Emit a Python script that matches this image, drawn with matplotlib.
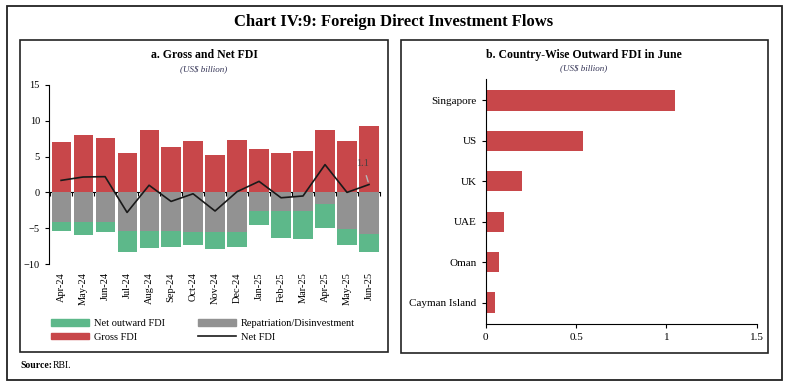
import numpy as np
import matplotlib.pyplot as plt
from matplotlib.patches import Rectangle, Patch
from matplotlib.lines import Line2D

plt.rcParams['font.family'] = ['Liberation Serif', 'DejaVu Serif']

# dados - painel a
meses = ['Apr-24', 'May-24', 'Jun-24', 'Jul-24', 'Aug-24', 'Sep-24', 'Oct-24', 'Nov-24',
         'Dec-24', 'Jan-25', 'Feb-25', 'Mar-25', 'Apr-25', 'May-25', 'Jun-25']
gross_fdi = [7.05, 8.04, 7.62, 5.5, 8.7, 6.3, 7.15, 5.2, 7.3, 6.07, 5.5, 5.8, 8.74, 7.15, 9.26]
repatriacao = [-4.16, -4.16, -4.16, -5.33, -5.33, -5.33, -5.51, -5.51, -5.51,
               -2.57, -2.57, -2.57, -1.68, -5.09, -5.75]
net_outward = [-1.26, -1.82, -1.31, -2.99, -2.43, -2.29, -1.87, -2.34, -2.11,
               -2.01, -3.79, -3.93, -3.27, -2.2, -2.52]
net_fdi = [1.68, 2.15, 2.2, -2.8, 1.0, -1.26, -0.19, -2.6, 0.1, 1.54, -0.75, -0.5, 3.88, 0.0, 1.1]

# dados - painel b
paises = ['Singapore', 'US', 'UK', 'UAE', 'Oman', 'Cayman Island']
outward_junho = [1.05, 0.54, 0.2, 0.1, 0.075, 0.05]

vermelho = '#C8474A'
verde = '#5DB88A'
cinza = '#929292'

fig = plt.figure(figsize=(7.87, 3.89), dpi=100)
W, H = 787, 389

def caixa(x0, y0, x1, y1, lw=1.2):
    fig.patches.append(Rectangle((x0 / W, 1 - y1 / H), (x1 - x0) / W, (y1 - y0) / H,
                                 transform=fig.transFigure, fill=False, edgecolor='#222222',
                                 linewidth=lw))

caixa(7, 6, 782, 380, 1.3)
caixa(20, 40, 388, 352)
caixa(401, 40, 768, 353)

fig.text(0.5, 1 - 22 / H, 'Chart IV:9: Foreign Direct Investment Flows', ha='center', va='center',
         fontsize=12, fontweight='bold')
fig.text(20 / W, 1 - 365 / H, 'Source:', fontsize=7, fontweight='bold', va='center')
fig.text(53 / W, 1 - 365 / H, 'RBI.', fontsize=7, va='center')

# Painel a
ax1 = fig.add_axes([49 / W, 1 - 264 / H, 331 / W, 179 / H])
x = np.arange(len(meses))
ax1.bar(x, gross_fdi, width=0.87, color=vermelho)
ax1.bar(x, repatriacao, width=0.87, color=cinza)
ax1.bar(x, net_outward, width=0.87, bottom=repatriacao, color=verde)
ax1.plot(x, net_fdi, color='#1a1a1a', linewidth=1.2)
ax1.annotate('1.1', xy=(x[-1], net_fdi[-1]), xytext=(x[-1] - 0.3, 4.1), fontsize=7.5,
             color='#4a4040', ha='center', va='center', zorder=5,
             arrowprops=dict(arrowstyle='-', color='#b8b8b8', lw=1, shrinkA=4, shrinkB=2))
ax1.set_xlim(-0.55, 14.5)
ax1.set_ylim(-10, 15)
ax1.set_yticks([-10, -5, 0, 5, 10, 15])
ax1.set_xticks(x)
ax1.set_xticklabels(meses, rotation=90, fontsize=7.5)
ax1.tick_params(axis='x', length=0, pad=6)
ax1.tick_params(axis='y', labelsize=7.5, direction='out', length=3)
for s in ['top', 'right', 'bottom']:
    ax1.spines[s].set_visible(False)
eixo_zero = ax1.secondary_xaxis(10 / 25)
eixo_zero.set_xticks(np.arange(-0.5, 15, 1))
eixo_zero.set_xticklabels([])
eixo_zero.tick_params(direction='out', length=3)

fig.text(204 / W, 1 - 55 / H, 'a. Gross and Net FDI', ha='center', va='center',
         fontsize=8.5, fontweight='bold')
fig.text(204 / W, 1 - 69 / H, '(US$ billion)', ha='center', va='center',
         fontsize=6.5, style='italic', color='#333355')

handles = [Patch(color=verde), Patch(color=vermelho), Patch(color=cinza),
           Line2D([], [], color='#1a1a1a', lw=1.2)]
labels = ['Net outward FDI', 'Gross FDI', 'Repatriation/Disinvestment', 'Net FDI']
fig.legend(handles, labels, ncol=2, loc='upper left', bbox_to_anchor=(47 / W, 1 - 315 / H),
           frameon=False, fontsize=7.5, handlelength=3.6, handleheight=0.6,
           columnspacing=3.2, labelspacing=0.45, handletextpad=0.5, borderaxespad=0)

# Painel b
ax2 = fig.add_axes([485.7 / W, 1 - 324 / H, 271 / W, 245 / H])
y = np.arange(len(paises))
ax2.barh(y, outward_junho, height=0.5, color=vermelho)
ax2.set_ylim(5.53, -0.53)
ax2.set_xlim(0, 1.5)
ax2.set_xticks([0, 0.5, 1, 1.5])
ax2.set_xticklabels(['0', '0.5', '1', '1.5'])
ax2.set_yticks(y)
ax2.set_yticklabels(paises)
ax2.tick_params(labelsize=8, direction='out', length=3)
for s in ['top', 'right']:
    ax2.spines[s].set_visible(False)

fig.text(584 / W, 1 - 55 / H, 'b. Country-Wise Outward FDI in June', ha='center', va='center',
         fontsize=8.5, fontweight='bold')
fig.text(584 / W, 1 - 68 / H, '(US$ billion)', ha='center', va='center',
         fontsize=6.5, style='italic', color='#333355')

plt.savefig('out.png', dpi=100)
